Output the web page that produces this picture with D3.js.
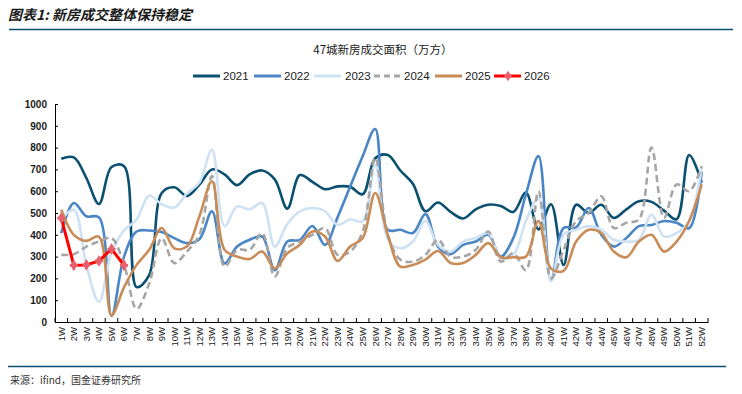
<!DOCTYPE html>
<html>
<head>
<meta charset="utf-8">
<script src="https://cdn.jsdelivr.net/npm/d3@7"></script>
<style>
  body { margin: 0; background: #fff; }
  svg { display: block; }
</style>
</head>
<body>
<svg width="742" height="394"></svg>
<script>
// weeks on the x axis
const weeks = d3.range(1, 53).map(d => d + "W");
const yTicks = d3.range(0, 1001, 100);

// 47城新房成交面积（万方）
const s2021 = [749, 755, 660, 541, 711, 715, 160, 215, 592, 618, 578, 630, 700, 677, 628, 677, 695, 654, 520, 674, 643, 609, 622, 620, 586, 751,
               766, 695, 634, 508, 548, 505, 475, 517, 538, 532, 505, 594, 425, 540, 262, 538, 500, 538, 477, 517, 554, 551, 511, 471, 766, 640];
const s2022 = [408, 546, 485, 480, 28, 300, 415, 420, 413, 385, 362, 380, 508, 269, 346, 377, 392, 238, 369, 377, 440, 354, 480, 620, 760, 885,
               423, 423, 408, 495, 346, 311, 354, 369, 400, 300, 385, 585, 761, 190, 431, 434, 523, 400, 346, 385, 440, 445, 463, 455, 430, 690];
const s2023 = [470, 515, 260, 92, 320, 420, 470, 580, 540, 525, 590, 640, 790, 440, 530, 517, 546, 346, 450, 508, 523, 508, 446, 470, 463, 720,
               380, 338, 369, 463, 354, 323, 369, 385, 408, 292, 308, 463, 569, 190, 400, 423, 440, 423, 377, 369, 377, 492, 392, 408, 463, 708];
const s2024 = [308, 311, 346, 369, 385, 262, 60, 177, 385, 270, 323, 400, 669, 254, 331, 331, 408, 209, 340, 369, 400, 431, 308, 323, 415, 754,
               400, 286, 277, 308, 377, 300, 300, 331, 415, 277, 315, 238, 600, 200, 330, 463, 500, 577, 431, 455, 470, 800, 477, 631, 600, 715];
const s2025 = [515, 400, 372, 392, 31, 160, 262, 331, 431, 338, 346, 485, 646, 331, 300, 289, 323, 246, 315, 354, 415, 392, 280, 346, 385, 592,
               400, 254, 262, 286, 326, 271, 271, 308, 362, 297, 297, 300, 463, 245, 235, 369, 423, 408, 323, 297, 369, 400, 323, 369, 463, 631];
const s2026 = [477, 260, 262, 280, 335, 260];

const seriesNames = ["2021", "2022", "2023", "2024", "2025", "2026"];
const seriesValues = [s2021, s2022, s2023, s2024, s2025, s2026];
const colors = ["#0b4f71", "#4a86c6", "#cfe2f3", "#a6a6a6", "#c98c58", "#ff0000"];
const markerColor = "#e8606c";

const svg = d3.select("svg");
const cjk = "'Noto Sans CJK SC', sans-serif";
const latin = "'Liberation Sans', Arial, sans-serif";

// header
svg.append("text")
  .attr("x", 8).attr("y", 20)
  .attr("font-family", cjk).attr("font-size", 14)
  .attr("font-weight", "bold").attr("font-style", "italic")
  .attr("fill", "#1a1a1a")
  .text("图表1: 新房成交整体保持稳定");
svg.append("line")
  .attr("x1", 9).attr("x2", 733).attr("y1", 29.5).attr("y2", 29.5)
  .attr("stroke", "#0b4f71").attr("stroke-width", 1.5);

svg.append("text")
  .attr("x", 383).attr("y", 54)
  .attr("text-anchor", "middle")
  .attr("font-family", cjk).attr("font-size", 11.5)
  .attr("fill", "#1a1a1a")
  .text("47城新房成交面积（万方）");

// scales
let x = d3.scaleBand().domain(weeks).range([55, 708]).padding(0);
let y = d3.scaleLinear().domain([0, 1000]).range([322, 104]);

// y axis
let yAxis = svg.append("g")
  .attr("transform", "translate(55,0)")
  .call(d3.axisLeft(y).tickValues(yTicks).tickFormat(d3.format("d")).tickSize(-3).tickPadding(8));
yAxis.selectAll("text")
  .attr("font-family", latin).attr("font-size", 10)
  .attr("font-weight", "bold").attr("fill", "#1a1a1a");
yAxis.select(".domain").attr("stroke", "#000");

// x axis
let xAxis = svg.append("g")
  .attr("transform", "translate(0,322)")
  .call(d3.axisBottom(x).tickSize(0).tickPadding(5));
xAxis.selectAll("text")
  .attr("font-family", latin).attr("font-size", 9.5).attr("fill", "#1a1a1a")
  .attr("text-anchor", "end")
  .attr("transform", "rotate(-90)")
  .attr("x", -5).attr("y", 0).attr("dy", "0.35em");
xAxis.select(".domain").attr("stroke", "#000");
// boundary ticks, pointing up
xAxis.selectAll(".bound")
  .data(d3.range(0, weeks.length + 1))
  .enter().append("line")
  .attr("class", "bound")
  .attr("x1", i => 55 + i * x.step()).attr("x2", i => 55 + i * x.step())
  .attr("y1", 0).attr("y2", -4)
  .attr("stroke", "#000");

// lines
let cx = i => x(weeks[i]) + x.bandwidth() / 2;
let smooth = d3.line().x((d, i) => cx(i)).y(d => y(d)).curve(d3.curveCatmullRom.alpha(0.5));
let straight = d3.line().x((d, i) => cx(i)).y(d => y(d));

seriesValues.forEach((vals, k) => {
  let path = svg.append("path")
    .attr("d", k === 5 ? straight(vals) : smooth(vals))
    .attr("fill", "none")
    .attr("stroke", colors[k])
    .attr("stroke-width", k === 5 ? 3 : 2.6)
    .attr("stroke-linejoin", "round");
  if (k === 3) path.attr("stroke-dasharray", "7,4");
});

// 2026 markers: a diamond with a small cross on it
function marker(g, px, py, s) {
  g.append("path")
    .attr("d", d3.symbol().type(d3.symbolDiamond).size(40 * s))
    .attr("transform", "translate(" + px + "," + py + ")")
    .attr("fill", markerColor);
  g.append("path")
    .attr("d", d3.symbol().type(d3.symbolCross).size(36 * s))
    .attr("transform", "translate(" + px + "," + py + ")")
    .attr("fill", markerColor);
}
let mk = svg.append("g");
s2026.forEach((d, i) => marker(mk, cx(i), y(d), 1));

// legend
let legendX = [193, 254, 314, 374, 435, 494];
let legend = svg.append("g").attr("transform", "translate(0,76)");
seriesNames.forEach((name, k) => {
  let lx = legendX[k];
  let ln = legend.append("line")
    .attr("x1", lx).attr("x2", lx + 27).attr("y1", 0).attr("y2", 0)
    .attr("stroke", colors[k]).attr("stroke-width", 3);
  if (k === 3) ln.attr("stroke-dasharray", "6,4");
  if (k === 5) marker(legend, lx + 14, 0, 0.8);
  legend.append("text")
    .attr("x", lx + (k === 2 ? 31 : 30)).attr("y", 4)
    .attr("font-family", latin).attr("font-size", 11.5)
    .attr("fill", "#1a1a1a")
    .text(name);
});

// footer
svg.append("line")
  .attr("x1", 8).attr("x2", 726).attr("y1", 366.5).attr("y2", 366.5)
  .attr("stroke", "#0b4f71").attr("stroke-width", 1.5);
svg.append("text")
  .attr("x", 10).attr("y", 384)
  .attr("font-family", cjk).attr("font-size", 10)
  .attr("fill", "#333")
  .text("来源：ifind，国金证券研究所");
</script>
</body>
</html>
